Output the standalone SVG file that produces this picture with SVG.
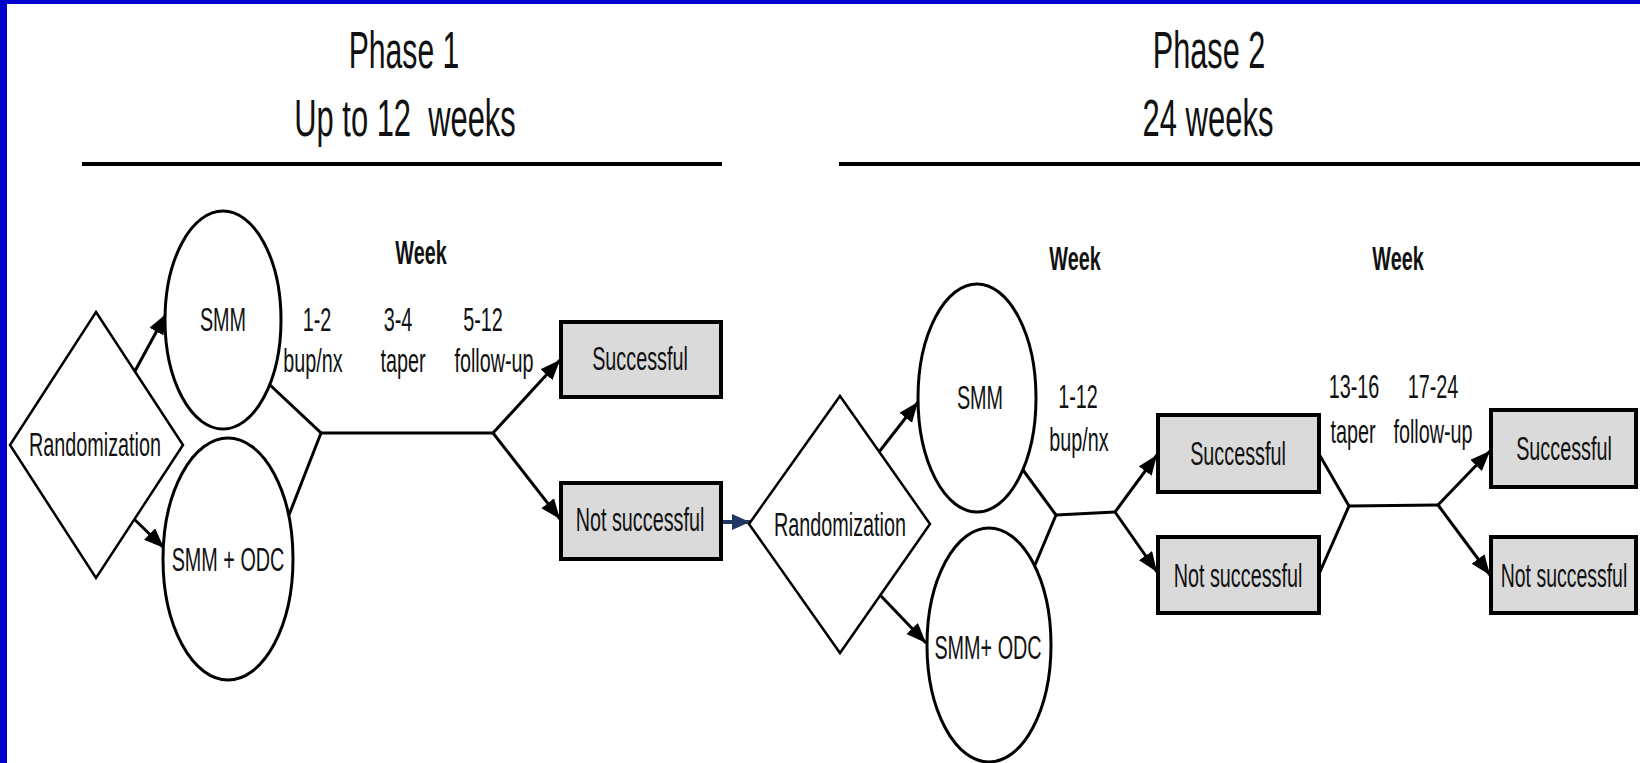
<svg xmlns="http://www.w3.org/2000/svg" width="1640" height="763" viewBox="0 0 1640 763">
<defs>
<marker id="ah" markerUnits="userSpaceOnUse" markerWidth="22" markerHeight="18" refX="20" refY="8" orient="auto">
<path d="M0,0 L20,8 L0,16 z" fill="#000"/>
</marker>
<marker id="ahn" markerUnits="userSpaceOnUse" markerWidth="22" markerHeight="18" refX="18" refY="8" orient="auto">
<path d="M0,0 L18,8 L0,16 z" fill="#1f3864"/>
</marker>
</defs>
<style>
text{font-family:"Liberation Sans",Arial,sans-serif;fill:#111;text-anchor:middle;font-size:33px}
.title{font-size:52px}
.wk{font-weight:bold}
.ell{fill:#fff;stroke:#000;stroke-width:3}
.dia{fill:#fff;stroke:#000;stroke-width:2.5}
.box{fill:#dadada;stroke:#000;stroke-width:4}
.c{fill:none;stroke:#000;stroke-width:3}
.ca{fill:none;stroke:#000;stroke-width:3;marker-end:url(#ah)}
.cn{fill:none;stroke:#1f3864;stroke-width:4;marker-end:url(#ahn)}
.rule{stroke:#000;stroke-width:4}
</style>
<rect x="0" y="0" width="1640" height="763" fill="#0000cc"/>
<rect x="7" y="4" width="1633" height="759" fill="#fff"/>

<g id="headers">
<text class="title" transform="translate(404,68) scale(.58,1)">Phase 1</text>
<text class="title" transform="translate(405,136) scale(.594,1)" style="white-space:pre">Up to 12  weeks</text>
<line class="rule" x1="82" y1="164" x2="722" y2="164"/>
<text class="title" transform="translate(1209,68) scale(.59,1)">Phase 2</text>
<text class="title" transform="translate(1208,136) scale(.596,1)">24 weeks</text>
<line class="rule" x1="839" y1="164" x2="1640" y2="164"/>
</g>

<g id="labels">
<text class="wk" transform="translate(421,264) scale(.6,1)">Week</text>
<text transform="translate(317,331) scale(.6,1)">1-2</text>
<text transform="translate(313,372) scale(.6,1)">bup/nx</text>
<text transform="translate(398,331) scale(.6,1)">3-4</text>
<text transform="translate(403,372) scale(.6,1)">taper</text>
<text transform="translate(483,331) scale(.6,1)">5-12</text>
<text transform="translate(494,372) scale(.6,1)">follow-up</text>
<text class="wk" transform="translate(1075,270) scale(.6,1)">Week</text>
<text transform="translate(1078,408) scale(.6,1)">1-12</text>
<text transform="translate(1079,451) scale(.6,1)">bup/nx</text>
<text class="wk" transform="translate(1398,270) scale(.6,1)">Week</text>
<text transform="translate(1354,398) scale(.6,1)">13-16</text>
<text transform="translate(1353,443) scale(.6,1)">taper</text>
<text transform="translate(1433,398) scale(.6,1)">17-24</text>
<text transform="translate(1433,443) scale(.6,1)">follow-up</text>
</g>

<g id="connectors">
<line class="ca" x1="135" y1="371" x2="166" y2="314"/>
<line class="ca" x1="134" y1="519" x2="164" y2="548"/>
<polyline class="c" points="270,385 321,433 289,515"/>
<line class="c" x1="321" y1="433" x2="493" y2="433"/>
<line class="ca" x1="493" y1="433" x2="560" y2="360"/>
<line class="ca" x1="493" y1="433" x2="560" y2="519"/>
<line class="cn" x1="722" y1="522" x2="750" y2="522"/>
<line class="ca" x1="879" y1="452" x2="918" y2="402"/>
<line class="ca" x1="881" y1="596" x2="926" y2="643"/>
<polyline class="c" points="1023,470 1056,515 1035,565"/>
<line class="c" x1="1056" y1="515" x2="1115" y2="512"/>
<line class="ca" x1="1115" y1="512" x2="1157" y2="455"/>
<line class="ca" x1="1115" y1="512" x2="1157" y2="572"/>
<polyline class="c" points="1319,454 1349,506 1319,574"/>
<line class="c" x1="1349" y1="506" x2="1438" y2="505"/>
<line class="ca" x1="1438" y1="505" x2="1490" y2="451"/>
<line class="ca" x1="1438" y1="505" x2="1490" y2="575"/>
</g>

<g id="rand1">
<polygon class="dia" points="96,312 183,445 96,578 10,445"/>
<text transform="translate(95,456) scale(.6,1)">Randomization</text>
</g>
<g id="smm1">
<ellipse class="ell" cx="223" cy="320" rx="58" ry="109"/>
<text transform="translate(223,331) scale(.6,1)">SMM</text>
</g>
<g id="smmodc1">
<ellipse class="ell" cx="228" cy="559" rx="65" ry="121"/>
<text transform="translate(228,571) scale(.6,1)">SMM + ODC</text>
</g>
<g id="succ1">
<rect class="box" x="561" y="322" width="160" height="75"/>
<text transform="translate(640,370) scale(.6,1)">Successful</text>
</g>
<g id="notsucc1">
<rect class="box" x="561" y="483" width="160" height="76"/>
<text transform="translate(640,531) scale(.6,1)">Not successful</text>
</g>
<g id="rand2">
<polygon class="dia" points="840,396 930,524 840,653 749,524"/>
<text transform="translate(840,536) scale(.6,1)">Randomization</text>
</g>
<g id="smm2">
<ellipse class="ell" cx="977" cy="398" rx="59" ry="114"/>
<text transform="translate(980,409) scale(.6,1)">SMM</text>
</g>
<g id="smmodc2">
<ellipse class="ell" cx="989" cy="645" rx="62" ry="117"/>
<text transform="translate(988,659) scale(.6,1)">SMM+ ODC</text>
</g>
<g id="succ2">
<rect class="box" x="1158" y="415" width="161" height="77"/>
<text transform="translate(1238,465) scale(.6,1)">Successful</text>
</g>
<g id="notsucc2">
<rect class="box" x="1158" y="537" width="161" height="76"/>
<text transform="translate(1238,587) scale(.6,1)">Not successful</text>
</g>
<g id="succ3">
<rect class="box" x="1491" y="410" width="145" height="77"/>
<text transform="translate(1564,460) scale(.6,1)">Successful</text>
</g>
<g id="notsucc3">
<rect class="box" x="1491" y="537" width="145" height="76"/>
<text transform="translate(1564,587) scale(.59,1)">Not successful</text>
</g>
</svg>
